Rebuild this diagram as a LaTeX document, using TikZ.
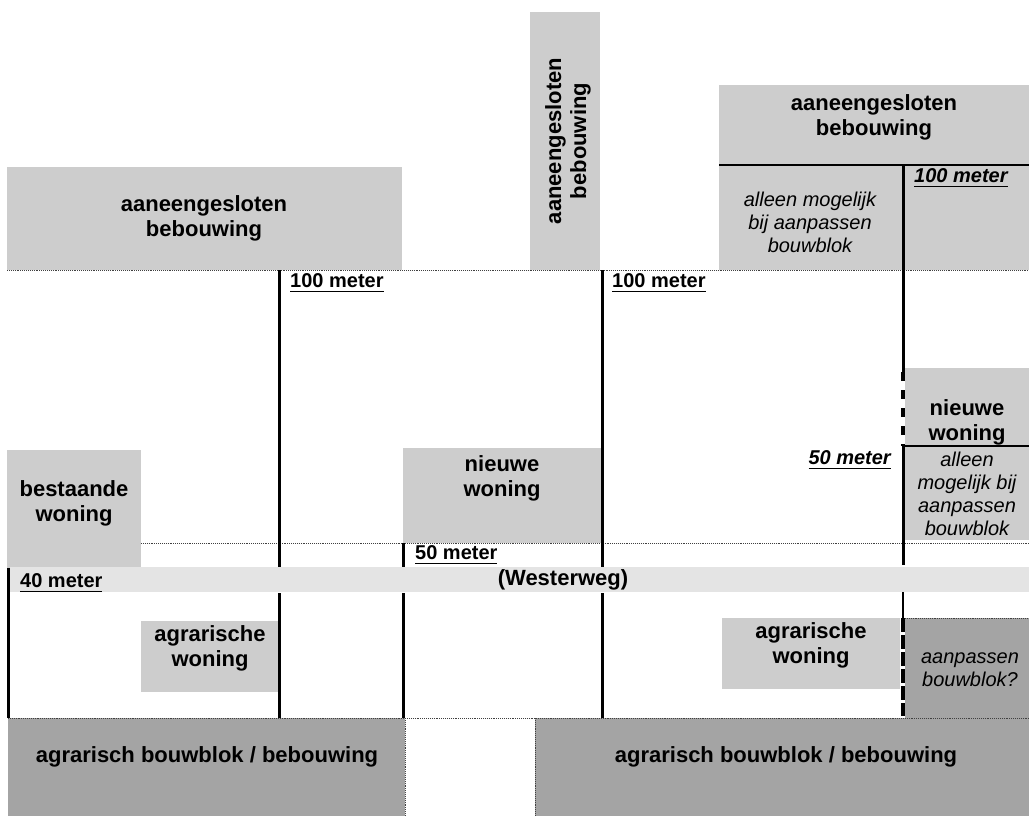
\documentclass[tikz,border=0pt]{standalone}
\usepackage{fontspec}
\setmainfont{Liberation Sans}
\definecolor{blk}{HTML}{CDCDCD}
\definecolor{roadc}{HTML}{E4E4E4}
\definecolor{darkc}{HTML}{A4A4A4}
\newcommand\ulx[1]{\setbox0\hbox{#1}\rlap{\vrule height -3pt depth 4.7pt width \wd0}\box0}
\tikzset{
  big/.style={font=\fontsize{22}{25}\selectfont\bfseries, align=center, inner sep=0pt},
  ital/.style={font=\fontsize{20}{23}\selectfont\itshape, align=center, inner sep=0pt},
  meter/.style={font=\fontsize{20}{22}\selectfont\bfseries, inner sep=0pt},
  meteri/.style={font=\fontsize{20}{22}\selectfont\bfseries\itshape, inner sep=0pt},
  wall/.style={line width=3pt, black},
  dashwall/.style={line width=3.2pt, black, dash pattern=on 9pt off 9pt},
  dashwallb/.style={line width=3.6pt, black, dash pattern=on 14pt off 3pt},
  thinl/.style={line width=0.9pt, black!75, densely dotted},
  edge/.style={line width=1.2pt, black}
}
\begin{document}
\begin{tikzpicture}[x=1pt,y=-1pt]
\useasboundingbox (0,0) rectangle (1029,816);
% filled areas
\fill[blk] (7,167) rectangle (402,270);
\fill[blk] (530,12) rectangle (600,270);
\fill[blk] (719,85) rectangle (1029,270);
\fill[blk] (7,450) rectangle (141,568);
\fill[blk] (403,448) rectangle (601,543);
\fill[blk] (905,368) rectangle (1029,540);
\fill[roadc] (10,567) rectangle (1029,592);
\fill[blk] (141,621) rectangle (278,692);
\fill[blk] (722,618) rectangle (900,689);
\fill[darkc] (905,618) rectangle (1029,718);
\fill[darkc] (8,718) rectangle (405,816);
\fill[darkc] (535,718) rectangle (1029,816);
% thin lines
\draw[thinl] (7,270) -- (1029,270);
\draw[thinl] (141,543) -- (1029,543);
\draw[edge] (719,165) -- (1029,165);
\draw[edge] (905,446) -- (1029,446);
\draw[thinl] (905,618) -- (1029,618);
\draw[thinl] (8,718) -- (1029,718);
\draw[thinl] (405,718) -- (405,816);
\draw[thinl] (535,718) -- (535,816);
% walls
\draw[wall] (279,270) -- (279,567);
\draw[wall] (279,593) -- (279,718);
\draw[wall] (602,270) -- (602,567);
\draw[wall] (602,593) -- (602,718);
\draw[wall] (403,543) -- (403,567);
\draw[wall] (403,593) -- (403,718);
\draw[wall] (8,568) -- (8,718);
\draw[wall] (903,165) -- (903,372);
\draw[dashwall] (903,372) -- (903,446);
\draw[wall] (903,446) -- (903,565);
\draw[line width=2pt] (903,592) -- (903,618);
\draw[dashwallb] (903,618) -- (903,716);
% texts
\node[big] (tl) at (204,218) {aaneengesloten\\bebouwing};
\node[big, rotate=90] (tv) at (568,141) {aaneengesloten\\bebouwing};
\node[big] (tr) at (874,117) {aaneengesloten\\bebouwing};
\node[ital] (trl) at (810,222) {alleen mogelijk\\bij aanpassen\\bouwblok};
\node[meteri, anchor=west] (m100c) at (914,178) {\ulx{100 meter}};
\node[meter, anchor=west] (m100a) at (290,283) {\ulx{100 meter}};
\node[meter, anchor=west] (m100b) at (612,283) {\ulx{100 meter}};
\node[big] (bw) at (74,503) {bestaande\\woning};
\node[big] (nw) at (502,478) {nieuwe\\woning};
\node[big] (nwr) at (967,422) {nieuwe\\woning};
\node[ital] (nwri) at (967,494) {alleen\\mogelijk bij\\aanpassen\\bouwblok};
\node[meteri, anchor=east] (m50r) at (891,460) {\ulx{50 meter}};
\node[meter, anchor=west] (m50) at (415,555) {\ulx{50 meter}};
\node[meter, anchor=west] (m40) at (20,583) {\ulx{40 meter}};
\node[big] (road) at (563,580) {(Westerweg)};
\node[big] (aw1) at (210,648) {agrarische\\woning};
\node[big] (aw2) at (811,645) {agrarische\\woning};
\node[ital] (ab) at (970,670) {aanpassen\\bouwblok?};
\node[big] (bb1) at (207,757) {agrarisch bouwblok / bebouwing};
\node[big] (bb2) at (786,757) {agrarisch bouwblok / bebouwing};
\end{tikzpicture}
\end{document}
